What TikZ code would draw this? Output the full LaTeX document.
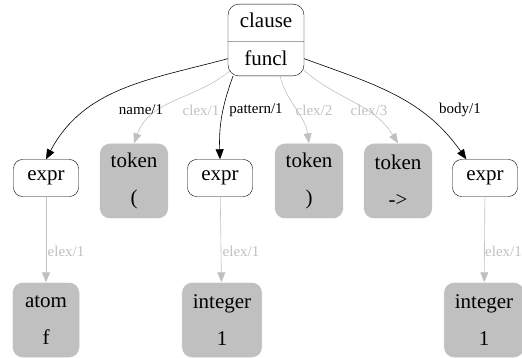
\documentclass[tikz,border=0pt]{standalone}
\usepackage{fontspec}
\setmainfont{Liberation Serif}
\usetikzlibrary{arrows.meta,shapes.multipart,calc}
\definecolor{lgray}{RGB}{192,192,192}
\tikzset{
  white box/.style={draw,rounded corners=9pt,minimum width=65pt,minimum height=37pt,
    inner sep=2pt,font=\fontsize{21}{24}\selectfont},
  gray box/.style={draw=white,fill=lgray,rounded corners=10pt,minimum width=67pt,
    minimum height=75pt,inner xsep=11pt,align=center,font=\fontsize{21}{37}\selectfont},
  tree edge/.style={semithick,-{Triangle[length=10pt,width=8pt]}},
  lex edge/.style={lgray,semithick,-{Triangle[length=10pt,width=8pt]}},
  elab/.style={font=\fontsize{15}{18}\selectfont,inner sep=0.5pt},
  glab/.style={elab,text=lgray}
}
\begin{document}
\begin{tikzpicture}[x=1pt,y=-1pt]
      \useasboundingbox (0,0) rectangle (522,358) ;
      \node[draw,rounded corners=11pt,rectangle split,rectangle split parts=2,
        minimum width=76pt,text height=14pt,text depth=4pt,inner ysep=9.5pt,
        font=\fontsize{21}{24}\selectfont] %
      (clause) at (266,40) {clause\nodepart{two}funcl} ;
      \node[white box] (e1) at (46,178) {expr} ;
      \node[gray box] (t1) at (134,181) {token\\(} ;
      \node[white box] (e2) at (220,178) {expr} ;
      \node[gray box] (t2) at (309,181) {token\\)} ;
      \node[gray box] (t3) at (398,181) {token\\->} ;
      \node[white box] (e3) at (485,178) {expr} ;
      \node[gray box] (a1) at (46,320) {atom\\f} ;
      \node[gray box] (i1) at (222,320) {integer\\1} ;
      \node[gray box] (i2) at (484,320) {integer\\1} ;
      % edges from the clause
      \draw[tree edge] (clause.two west) to[out=195,in=62] (e1.north) ;
      \draw[lex edge] ($(clause.south west)+(3,-6)$) to[out=220,in=70] (t1.north) ;
      \draw[tree edge] ($(clause.south)+(-33,0)$) to[out=250,in=92] (e2.north) ;
      \draw[lex edge] ($(clause.south)+(14,0)$) to[out=-75,in=98] (t2.north) ;
      \draw[lex edge] ($(clause.two east)+(-2,10)$) to[out=-42,in=122] (t3.north) ;
      \draw[tree edge] (clause.two east) to[out=-20,in=125] ($(e3.north west)+(14,0)$) ;
      \draw[lex edge] (e1) -- (a1) ;
      \draw[lex edge] (e2) -- (i1) ;
      \draw[lex edge] (e3) -- (i2) ;
      % labels
      \node[elab] (l1) at (141,110) {name/1} ;
      \node[glab] (l2) at (201,110) {clex/1} ;
      \node[elab] (l3) at (256,110) {pattern/1} ;
      \node[glab] (l4) at (314,110) {clex/2} ;
      \node[glab] (l5) at (369,110) {clex/3} ;
      \node[elab] (l6) at (460,110) {body/1} ;
      \node[glab,anchor=west] (m1) at (47,251) {elex/1} ;
      \node[glab,anchor=west] (m2) at (222,251) {elex/1} ;
      \node[glab,anchor=west] (m3) at (484.5,251) {elex/1} ;
    \end{tikzpicture}
\end{document}
